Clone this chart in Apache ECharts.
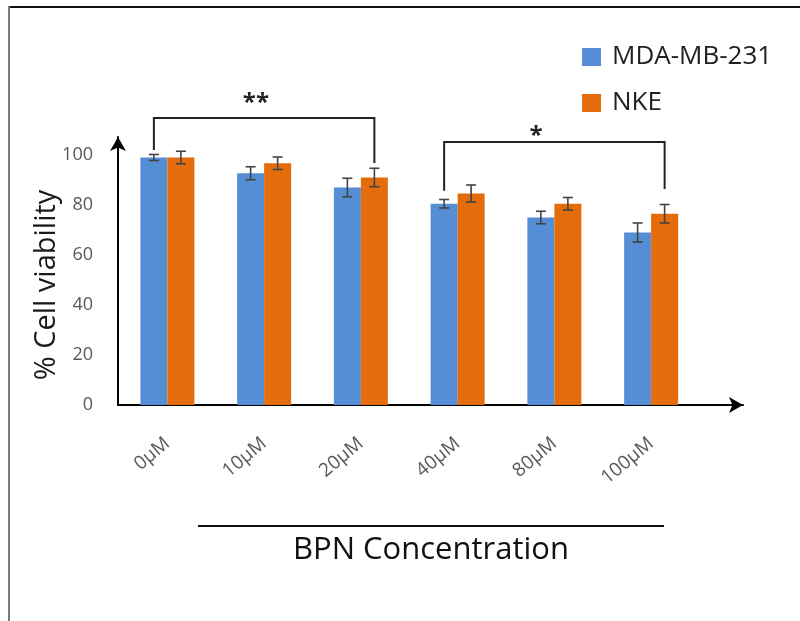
<!DOCTYPE html>
<html>
<head>
<meta charset="utf-8">
<title>BPN Concentration – % Cell viability</title>
<script src="https://cdn.jsdelivr.net/npm/echarts@6/dist/echarts.min.js"></script>
<style>
  html, body { margin: 0; padding: 0; background: #fff; }
  #chart { width: 800px; height: 621px; }
</style>
</head>
<body>
<div id="chart"></div>
<script>
// Concentrations tested and mean viability (%) per cell line
const categories = ['0µM', '10µM', '20µM', '40µM', '80µM', '100µM'];
const mdaValues = [99, 92.7, 87, 80.5, 75, 69];
const nkeValues = [99, 96.7, 91, 84.6, 80.5, 76.5];
// Standard deviations shown as error bars
const mdaErrors = [1.2, 2.6, 3.7, 1.7, 2.5, 3.8];
const nkeErrors = [2.5, 2.5, 3.7, 3.4, 2.5, 3.7];
// Value axis range
const yMin = 0, yMax = 100, yStep = 20;

// Significance brackets: start/end category, bracket height,
// leg end values, star label and its placement
const bracketStart = [0, 3];
const bracketEnd = [2, 5];
const bracketLevel = [114.8, 105.2];
const bracketLegLeft = [102, 85.7];
const bracketLegRight = [96.8, 86.4];
const bracketMarks = ['**', '*'];
const bracketMarkOffset = [0.915, 0.81];   // in category bands from the start category
const bracketMarkLevel = [120.6, 107.4];

const BLUE = '#558ED5';
const ORANGE = '#E46C0A';
const BAR_W = 27;
const FONT = "'Open Sans', 'DejaVu Sans', sans-serif";

const chart = echarts.init(document.getElementById('chart'), null, { renderer: 'canvas' });

function errorBarSeries(name, values, errors, side) {
  return {
    name: name + ' error',
    type: 'custom',
    xAxisIndex: 0, yAxisIndex: 0,
    z: 5,
    silent: true,
    data: values.map((v, i) => [i, v, errors[i]]),
    encode: { x: 0, y: 1 },
    renderItem: function (params, api) {
      const i = api.value(0), v = api.value(1), e = api.value(2);
      const top = api.coord([i, v + e]);
      const bot = api.coord([i, v - e]);
      const x = top[0] + side * BAR_W / 2;
      const cap = 5;
      const style = { stroke: '#444', lineWidth: 1.6, fill: null };
      return {
        type: 'group',
        children: [
          { type: 'line', shape: { x1: x, y1: top[1], x2: x, y2: bot[1] }, style },
          { type: 'line', shape: { x1: x - cap, y1: top[1], x2: x + cap, y2: top[1] }, style },
          { type: 'line', shape: { x1: x - cap, y1: bot[1], x2: x + cap, y2: bot[1] }, style }
        ]
      };
    }
  };
}

const bracketData = bracketStart.map((s, k) => [
  s, bracketEnd[k], bracketLevel[k], bracketLegLeft[k], bracketLegRight[k],
  bracketMarkOffset[k], bracketMarkLevel[k], k
]);

const option = {
  animation: false,
  backgroundColor: '#ffffff',
  textStyle: { fontFamily: FONT },
  legend: {
    orient: 'vertical',
    left: 582, top: 44,
    padding: 0,
    itemWidth: 19, itemHeight: 18, itemGap: 20,
    icon: 'rect',
    data: ['MDA-MB-231', 'NKE'],
    textStyle: { fontSize: 26, color: '#222', fontFamily: FONT, padding: [0, 0, 0, 6] }
  },
  grid: [
    { left: 119, right: 100.5, top: 155, bottom: 216 },
    { left: 118, right: 57, top: 137, bottom: 216 }
  ],
  xAxis: [
    {
      type: 'category', gridIndex: 0, data: categories,
      axisLine: { show: false }, axisTick: { show: false },
      axisLabel: { rotate: 40, margin: 36, fontSize: 19, color: '#5a5a5a', fontFamily: FONT }
    },
    {
      type: 'value', gridIndex: 1, min: 0, max: 1,
      axisLine: { show: true, symbol: ['none', 'arrow'], symbolSize: [12, 14], lineStyle: { color: '#000', width: 2 } },
      axisTick: { show: false }, axisLabel: { show: false }, splitLine: { show: false }
    }
  ],
  yAxis: [
    {
      type: 'value', gridIndex: 0, min: yMin, max: yMax, interval: yStep,
      axisLine: { show: false }, axisTick: { show: false }, splitLine: { show: false },
      axisLabel: { margin: 26, fontSize: 18, color: '#595959', fontFamily: FONT },
      name: '% Cell viability', nameLocation: 'middle', nameGap: 58, nameMoveOverlap: false,
      nameTextStyle: { fontSize: 29, color: '#1a1a1a', fontFamily: FONT, padding: [0, 0, 0, -10] }
    },
    {
      type: 'value', gridIndex: 1, min: 0, max: 1,
      axisLine: { show: true, symbol: ['none', 'arrow'], symbolSize: [12, 14], lineStyle: { color: '#000', width: 2 } },
      axisTick: { show: false }, axisLabel: { show: false }, splitLine: { show: false }
    }
  ],
  series: [
    {
      name: 'MDA-MB-231', type: 'bar', xAxisIndex: 0, yAxisIndex: 0,
      data: mdaValues, barWidth: BAR_W, barGap: '0%',
      itemStyle: { color: BLUE }, z: 2
    },
    {
      name: 'NKE', type: 'bar', xAxisIndex: 0, yAxisIndex: 0,
      data: nkeValues, barWidth: BAR_W, barGap: '0%',
      itemStyle: { color: ORANGE }, z: 2
    },
    errorBarSeries('MDA-MB-231', mdaValues, mdaErrors, -1),
    errorBarSeries('NKE', nkeValues, nkeErrors, 1),
    {
      name: 'significance', type: 'custom',
      xAxisIndex: 0, yAxisIndex: 0, z: 6, silent: true,
      data: bracketData,
      encode: { x: 0, y: 2 },
      renderItem: function (params, api) {
        const s = api.value(0), e = api.value(1);
        const level = api.value(2), legL = api.value(3), legR = api.value(4);
        const markOff = api.value(5), markLevel = api.value(6), k = api.value(7);
        const band = api.size([1, 0])[0];
        const pL = api.coord([s, level]);
        const pR = api.coord([e, level]);
        const xL = pL[0] - BAR_W / 2;
        const xR = pR[0] + BAR_W / 2;
        const yLegL = api.coord([s, legL])[1];
        const yLegR = api.coord([e, legR])[1];
        const markPt = api.coord([s, markLevel]);
        return {
          type: 'group',
          children: [
            {
              type: 'polyline',
              shape: { points: [[xL, yLegL], [xL, pL[1]], [xR, pR[1]], [xR, yLegR]] },
              style: { stroke: '#222', lineWidth: 2, fill: null }
            },
            {
              type: 'text',
              style: {
                text: bracketMarks[k], x: markPt[0] + markOff * band, y: markPt[1],
                align: 'center', verticalAlign: 'middle',
                fontSize: 24, fontWeight: 'bold', fill: '#222', fontFamily: FONT
              }
            }
          ]
        };
      }
    }
  ],
  graphic: [
    // frame edges
    { type: 'line', shape: { x1: 8, y1: 7, x2: 800, y2: 7 }, style: { stroke: '#111', lineWidth: 2 } },
    { type: 'line', shape: { x1: 9, y1: 6, x2: 9, y2: 621 }, style: { stroke: '#7a7a7a', lineWidth: 2 } },
    // x-axis title with rule above it
    { type: 'line', shape: { x1: 198, y1: 526, x2: 664, y2: 526 }, style: { stroke: '#111', lineWidth: 2 } },
    {
      type: 'text', x: 431, y: 550,
      style: { text: 'BPN Concentration', align: 'center', verticalAlign: 'middle', fontSize: 31, fill: '#111', fontFamily: FONT }
    }
  ]
};

chart.setOption(option);
</script>
</body>
</html>
